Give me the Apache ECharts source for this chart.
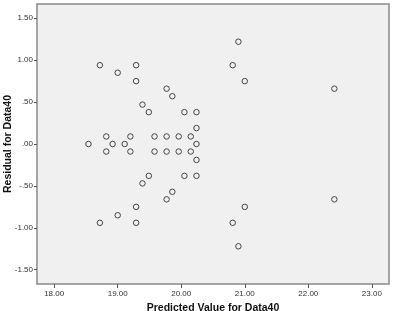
<!DOCTYPE html>
<html>
<head>
<meta charset="utf-8">
<script src="https://cdn.jsdelivr.net/npm/echarts@6/dist/echarts.min.js"></script>
<style>html,body{margin:0;padding:0;background:#fff;}#c{width:394px;height:311px;}</style>
</head>
<body>
<div id="c"></div>
<script>
const xTicks = [18, 19, 20, 21, 22, 23];
const yTicks = [-1.5, -1.0, -0.5, 0, 0.5, 1.0, 1.5];
const predicted = [
  18.72, 19.29, 19.00, 19.29, 19.77, 19.86, 19.39, 19.49, 20.05, 20.24, 20.24,
  18.82, 19.20, 19.58, 19.77, 19.96, 20.15, 20.90, 20.81, 21.00, 22.41,
  18.54, 18.92, 19.11, 20.24,
  18.72, 19.29, 19.00, 19.29, 19.77, 19.86, 19.39, 19.49, 20.05, 20.24, 20.24,
  18.82, 19.20, 19.58, 19.77, 19.96, 20.15, 20.90, 20.81, 21.00, 22.41
];
const residual = [
  0.94, 0.94, 0.85, 0.75, 0.66, 0.57, 0.47, 0.38, 0.38, 0.38, 0.19,
  0.09, 0.09, 0.09, 0.09, 0.09, 0.09, 1.22, 0.94, 0.75, 0.66,
  0, 0, 0, 0,
  -0.94, -0.94, -0.85, -0.75, -0.66, -0.57, -0.47, -0.38, -0.38, -0.38, -0.19,
  -0.09, -0.09, -0.09, -0.09, -0.09, -0.09, -1.22, -0.94, -0.75, -0.66
];
const data = predicted.map((x, i) => [x, residual[i]]);
const fmtX = v => v.toFixed(2);
const fmtY = v => { let s = Math.abs(v).toFixed(2); if (s.startsWith('0')) s = s.slice(1); return (v < 0 ? '-' : '') + s; };
const chart = echarts.init(document.getElementById('c'), null, {renderer: 'canvas'});
chart.setOption({
  animation: false,
  backgroundColor: '#ffffff',
  grid: {left: 37, top: 4, right: 5, bottom: 27, containLabel: false, outerBoundsMode: 'none', show: true, backgroundColor: '#f0f0f0', borderColor: '#8a8a8a', borderWidth: 1.5},
  xAxis: {
    type: 'value', min: 17.73, max: 23.27,
    name: 'Predicted Value for Data40', nameLocation: 'middle', nameGap: 19, nameMoveOverlap: false,
    nameTextStyle: {fontFamily: 'Liberation Sans', fontWeight: 'bold', fontSize: 10.5, color: '#111'},
    axisLine: {show: false, onZero: false},
    splitLine: {show: false},
    axisTick: {show: true, inside: false, length: 4, customValues: xTicks, lineStyle: {color: '#555'}},
    axisLabel: {customValues: xTicks, formatter: fmtX, fontFamily: 'Liberation Sans', fontSize: 8, color: '#333', margin: 6}
  },
  yAxis: {
    type: 'value', min: -1.67, max: 1.67,
    name: 'Residual for Data40', nameLocation: 'middle', nameGap: 23, nameRotate: 90, nameMoveOverlap: false,
    nameTextStyle: {fontFamily: 'Liberation Sans', fontWeight: 'bold', fontSize: 10.5, color: '#111'},
    axisLine: {show: false, onZero: false},
    splitLine: {show: false},
    axisTick: {show: true, inside: false, length: 3, customValues: yTicks, lineStyle: {color: '#555'}},
    axisLabel: {customValues: yTicks, formatter: fmtY, fontFamily: 'Liberation Sans', fontSize: 8, color: '#333', margin: 4}
  },
  series: [{
    type: 'scatter', data: data, symbol: 'circle', symbolSize: 5.5,
    itemStyle: {color: '#f0f0f0', borderColor: '#444', borderWidth: 1, opacity: 1}
  }]
});
</script>
</body>
</html>
